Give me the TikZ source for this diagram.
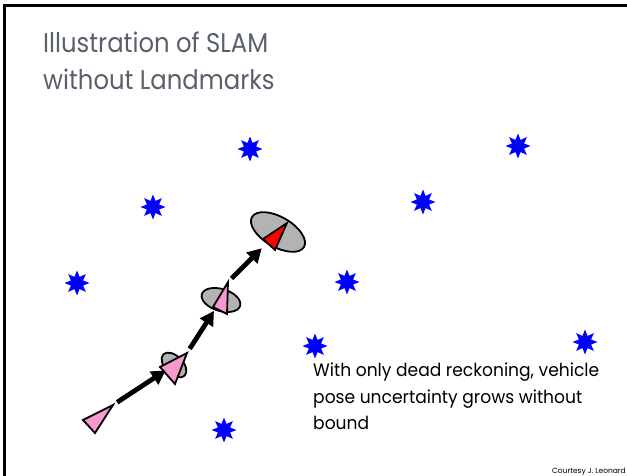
\documentclass[tikz,border=0pt]{standalone}
\usepackage{fontspec}
\setmainfont{Poppins}
\newfontfamily\titlefont[FakeStretch=0.9]{Poppins}
\newfontfamily\bodyfont[FakeStretch=0.95]{Poppins}
\usetikzlibrary{shapes.geometric,arrows.meta}

\definecolor{titlegray}{RGB}{89,95,107}
\definecolor{posepink}{RGB}{247,153,204}
\definecolor{ellgray}{RGB}{179,179,179}

\tikzset{
  landmark/.style={star, star points=8, star point ratio=1.9, fill=blue,
    minimum size=25pt, inner sep=0pt},
  uncert/.style={draw=black, line width=1.8pt, fill=ellgray},
  vehicle/.style={draw=black, line width=1.8pt, fill=posepink},
  motion/.style={line width=4.8pt, -{Triangle[length=14pt,width=15pt]}},
}

\begin{document}
\begin{tikzpicture}[x=1pt,y=-1pt]
            % Bounding box matching the slide
            \useasboundingbox (0,0) rectangle (627,476);

            % Slide frame (top and left only)
            \draw[line width=2.8pt] (627,5.5) -- (4.7,5.5) -- (4.7,476);

            % Title
            \node[anchor=base west, inner sep=0pt, text=titlegray,
              font=\titlefont\fontsize{27}{33}\selectfont] (title1) at (43,53) {Illustration of SLAM};
            \node[anchor=base west, inner sep=0pt, text=titlegray,
              font=\titlefont\fontsize{27}{33}\selectfont] (title2) at (43,90) {without Landmarks};

            % Landmarks (stars)
            \foreach \x/\y [count=\i] in {250/149, 518/146, 153/207, 423/202, 77/283,
                                          347/282, 315/346, 585/342, 224/430}
              \node[landmark] (lm\i) at (\x,\y) {};

            % Uncertainty ellipses
            \draw[uncert, rotate around={-45:(174,365)}] (174,365) ellipse (15 and 9);
            \draw[uncert, rotate around={-17:(221,300)}] (221,300) ellipse (20 and 11);
            \draw[uncert, rotate around={-30:(278,232)}] (278,232) ellipse (30 and 15);

            % Vehicle poses
            \draw[vehicle] (113,405) -- (83,420) -- (95,433) -- cycle;
            \draw[vehicle] (187,353) -- (160,367) -- (175,384) -- cycle;
            \draw[vehicle] (228,282) -- (213,307) -- (227,314) -- cycle;
            \draw[vehicle, fill=red] (287,223) -- (263,239) -- (275,250) -- cycle;

            % Pose points
            \coordinate (pose1) at (113,405);
            \coordinate (pose2) at (174,365);
            \coordinate (tip2) at (187,353);
            \coordinate (pose3) at (221,300);
            \coordinate (tip3) at (228,282);
            \coordinate (pose4) at (278,232);

            % Dead reckoning steps
            \draw[motion, shorten <=5pt, shorten >=10pt] (pose1) -- (pose2);
            \draw[motion, shorten <=5pt, shorten >=13pt] (tip2) -- (pose3);
            \draw[motion, shorten <=5pt, shorten >=23pt] (tip3) -- (pose4);

            % Caption
            \node[anchor=north west, inner sep=0pt, align=left,
              font=\bodyfont\fontsize{18}{26.5}\selectfont] (caption) at (313,363)
              {With only dead reckoning, vehicle\\pose uncertainty grows without\\bound};

            % Credit
            \node[anchor=base east, inner sep=0pt, font=\fontsize{7.5}{9}\selectfont]
              (credit) at (626,473) {Courtesy J. Leonard};
        \end{tikzpicture}
\end{document}
